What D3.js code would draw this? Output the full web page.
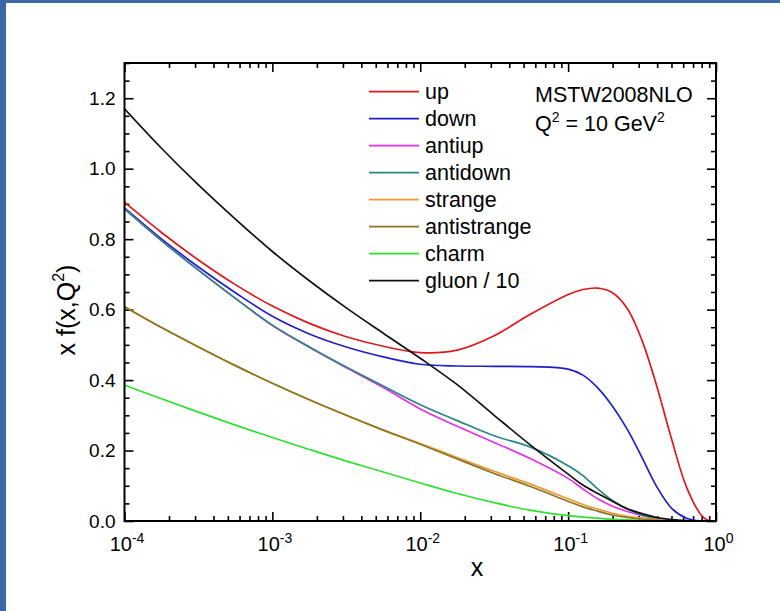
<!DOCTYPE html>
<html>
<head>
<meta charset="utf-8">
<script src="https://cdn.jsdelivr.net/npm/d3@7"></script>
<style>
  html, body { margin: 0; padding: 0; background: #ffffff; }
  svg { display: block; }
  text { font-family: "Liberation Sans", Arial, sans-serif; fill: #000; }
</style>
</head>
<body>
<svg id="chart" width="780" height="611"></svg>
<script>
// Momentum fractions x on a log grid (quarter decades, then finer near x = 1)
const xValues = [1e-4, 1.778e-4, 3.162e-4, 5.623e-4, 1e-3, 1.778e-3, 3.162e-3, 5.623e-3,
  1e-2, 1.778e-2, 3.162e-2, 5.623e-2, 0.1, 0.1259, 0.1585, 0.1995, 0.2512, 0.3162,
  0.3981, 0.5012, 0.631, 0.7943, 0.8913, 1.0];

// x f(x, Q^2) at Q^2 = 10 GeV^2, MSTW2008 NLO
const up          = [0.905, 0.819, 0.741, 0.671, 0.610, 0.561, 0.523, 0.496, 0.478, 0.485, 0.526, 0.588,
  0.643, 0.657, 0.661, 0.648, 0.603, 0.512, 0.382, 0.232, 0.097, 0.017, 0.001, 0];
const down        = [0.889, 0.801, 0.721, 0.648, 0.581, 0.531, 0.494, 0.466, 0.445, 0.440, 0.439, 0.438,
  0.431, 0.414, 0.378, 0.326, 0.260, 0.180, 0.097, 0.036, 0.008, 0, 0, 0];
const antiup      = [0.886, 0.796, 0.712, 0.632, 0.555, 0.493, 0.435, 0.379, 0.318, 0.269, 0.223, 0.176,
  0.121, 0.091, 0.063, 0.042, 0.027, 0.015, 0.007, 0.002, 0, 0, 0, 0];
const antidown    = [0.886, 0.796, 0.712, 0.632, 0.556, 0.494, 0.437, 0.383, 0.330, 0.285, 0.242, 0.209,
  0.157, 0.129, 0.091, 0.058, 0.034, 0.017, 0.007, 0.002, 0, 0, 0, 0];
const strange     = [0.608, 0.549, 0.494, 0.441, 0.391, 0.344, 0.300, 0.258, 0.220, 0.180, 0.141, 0.104,
  0.063, 0.047, 0.034, 0.022, 0.013, 0.008, 0.004, 0.001, 0, 0, 0, 0];
const antistrange = [0.608, 0.549, 0.494, 0.441, 0.391, 0.344, 0.300, 0.258, 0.218, 0.176, 0.135, 0.097,
  0.056, 0.040, 0.028, 0.017, 0.010, 0.005, 0.002, 0, 0, 0, 0, 0];
const charm       = [0.386, 0.347, 0.309, 0.272, 0.237, 0.203, 0.170, 0.139, 0.108, 0.078, 0.052, 0.030,
  0.015, 0.011, 0.008, 0.005, 0.003, 0.001, 0, 0, 0, 0, 0, 0];
const gluonOver10 = [1.170, 1.058, 0.954, 0.857, 0.765, 0.682, 0.605, 0.533, 0.462, 0.387, 0.300, 0.214,
  0.133, 0.102, 0.078, 0.056, 0.035, 0.021, 0.010, 0.004, 0.001, 0, 0, 0];

const seriesNames  = ["up", "down", "antiup", "antidown", "strange", "antistrange", "charm", "gluon / 10"];
const seriesValues = [up, down, antiup, antidown, strange, antistrange, charm, gluonOver10];
const seriesColors = ["#e0181c", "#2020c8", "#e632e6", "#2a8686", "#f09632", "#877826", "#30e030", "#111111"];

const xMajorTicks = [1e-4, 1e-3, 1e-2, 1e-1, 1];
const xTickExponents = ["-4", "-3", "-2", "-1", "0"];
const yMajorTicks = [0, 0.2, 0.4, 0.6, 0.8, 1.0, 1.2];
const yTickLabels = ["0.0", "0.2", "0.4", "0.6", "0.8", "1.0", "1.2"];

const svg = d3.select("#chart");

// page background with the blue edge strips
svg.append("rect").attr("width", 780).attr("height", 611).attr("fill", "#ffffff");
svg.append("rect").attr("x", 0).attr("y", 0).attr("width", 780).attr("height", 3).attr("fill", "#3d66a5");
svg.append("rect").attr("x", 0).attr("y", 0).attr("width", 6).attr("height", 611).attr("fill", "#3d66a5");

const plot = { left: 124.5, right: 716, top: 63, bottom: 521 };

const x = d3.scaleLog().domain([1e-4, 1]).range([plot.left, plot.right]);
const y = d3.scaleLinear().domain([0, 1.3]).range([plot.bottom, plot.top]);

// minor tick positions
const xMinorTicks = [];
for (let e = -4; e < 0; e++) for (let m = 2; m <= 9; m++) xMinorTicks.push(m * Math.pow(10, e));
const yMinorTicks = d3.range(0, 27).map(i => +(i * 0.05).toFixed(2)).filter(v => yMajorTicks.indexOf(v) < 0);

function styleAxis(g) {
  g.select(".domain").remove();
  g.selectAll(".tick line").attr("stroke", "#000").attr("stroke-width", 1.6);
}

// bottom axis
svg.append("g").attr("transform", `translate(0,${plot.bottom})`)
  .call(d3.axisBottom(x).tickValues(xMinorTicks).tickSize(-5).tickFormat(""))
  .call(styleAxis);
const xBottomMajor = svg.append("g").attr("transform", `translate(0,${plot.bottom})`)
  .call(d3.axisBottom(x).tickValues(xMajorTicks).tickSize(-9).tickPadding(16).tickFormat(() => "10"))
  .call(styleAxis);
xBottomMajor.selectAll(".tick text")
  .attr("font-size", 20)
  .attr("dy", "0.71em")
  .attr("transform", "translate(2,0)")
  .each(function (d, i) {
    d3.select(this).append("tspan")
      .attr("font-size", 14)
      .attr("dy", "-0.6em")
      .text(xTickExponents[i]);
  });

// top axis
svg.append("g").attr("transform", `translate(0,${plot.top})`)
  .call(d3.axisTop(x).tickValues(xMinorTicks).tickSize(-5).tickFormat(""))
  .call(styleAxis);
svg.append("g").attr("transform", `translate(0,${plot.top})`)
  .call(d3.axisTop(x).tickValues(xMajorTicks).tickSize(-9).tickFormat(""))
  .call(styleAxis);

// left axis
svg.append("g").attr("transform", `translate(${plot.left},0)`)
  .call(d3.axisLeft(y).tickValues(yMinorTicks).tickSize(-5).tickFormat(""))
  .call(styleAxis);
svg.append("g").attr("transform", `translate(${plot.left},0)`)
  .call(d3.axisLeft(y).tickValues(yMajorTicks).tickSize(-9).tickPadding(9)
    .tickFormat((d, i) => yTickLabels[i]))
  .call(styleAxis)
  .selectAll(".tick text").attr("font-size", 19);

// right axis
svg.append("g").attr("transform", `translate(${plot.right},0)`)
  .call(d3.axisRight(y).tickValues(yMinorTicks).tickSize(-5).tickFormat(""))
  .call(styleAxis);
svg.append("g").attr("transform", `translate(${plot.right},0)`)
  .call(d3.axisRight(y).tickValues(yMajorTicks).tickSize(-9).tickFormat(""))
  .call(styleAxis);

// curves
svg.append("clipPath").attr("id", "plot-clip")
  .append("rect")
  .attr("x", plot.left).attr("y", plot.top)
  .attr("width", plot.right - plot.left).attr("height", plot.bottom - plot.top);

const line = d3.line()
  .x(d => x(d[0]))
  .y(d => y(d[1]))
  .curve(d3.curveCatmullRom.alpha(0.5));

const curves = svg.append("g").attr("clip-path", "url(#plot-clip)");
seriesValues.forEach((vals, i) => {
  curves.append("path")
    .datum(xValues.map((xv, j) => [xv, vals[j]]))
    .attr("fill", "none")
    .attr("stroke", seriesColors[i])
    .attr("stroke-width", 1.7)
    .attr("stroke-linejoin", "round")
    .attr("d", line);
});

// frame
svg.append("rect")
  .attr("x", plot.left).attr("y", plot.top)
  .attr("width", plot.right - plot.left).attr("height", plot.bottom - plot.top)
  .attr("fill", "none").attr("stroke", "#000").attr("stroke-width", 2);

// legend
const legend = svg.append("g").attr("transform", "translate(369,91.7)");
seriesNames.forEach((name, i) => {
  const row = legend.append("g").attr("transform", `translate(0,${i * 27})`);
  row.append("line").attr("x1", 0).attr("x2", 50).attr("y1", 0).attr("y2", 0)
    .attr("stroke", seriesColors[i]).attr("stroke-width", 1.7);
  row.append("text").attr("x", 56).attr("y", 7.6).attr("font-size", 21.5).text(name);
});

// parameter set annotation
svg.append("text").attr("x", 535).attr("y", 101.5).attr("font-size", 21.5).text("MSTW2008NLO");
const q = svg.append("text").attr("x", 535).attr("y", 131).attr("font-size", 21.5);
q.append("tspan").text("Q");
q.append("tspan").attr("font-size", 14).attr("dy", "-0.65em").text("2");
q.append("tspan").attr("dy", "0.42em").text(" = 10 GeV");
q.append("tspan").attr("font-size", 14).attr("dy", "-0.65em").text("2");

// axis titles
svg.append("text").attr("x", 477).attr("y", 576).attr("font-size", 25)
  .attr("text-anchor", "middle").text("x");

const yt = svg.append("text")
  .attr("transform", "translate(75,310) rotate(-90)")
  .attr("text-anchor", "middle").attr("font-size", 25);
yt.append("tspan").text("x f(x,Q");
yt.append("tspan").attr("font-size", 16).attr("dy", "-0.7em").text("2");
yt.append("tspan").attr("dy", "0.45em").text(")");
</script>
</body>
</html>
